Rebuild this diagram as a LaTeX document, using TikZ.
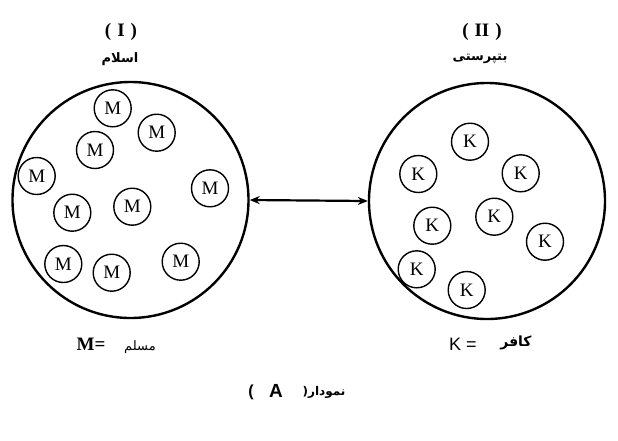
\documentclass[tikz,border=0pt]{standalone}
\usepackage{fontspec}
\setmainfont{Liberation Serif}
\newfontfamily\sansf{Liberation Sans}
\newfontfamily\arabicfont[Script=Arabic]{DejaVu Sans}
\TeXXeTstate=1
\usetikzlibrary{arrows.meta}
\begin{document}
\begin{tikzpicture}[x=1pt,y=-1pt,
  big/.style={draw,line width=2.4pt,circle,minimum size=236pt,inner sep=0pt},
  small/.style={draw,line width=1.4pt,circle,minimum size=37pt,inner sep=0pt,font=\fontsize{19}{19}\selectfont},
  title/.style={font=\fontsize{19}{19}\selectfont\bfseries},
  artitle/.style={font=\arabicfont\bfseries\fontsize{13}{13}\selectfont},
  label/.style={font=\fontsize{19}{19}\selectfont\bfseries},
]
\useasboundingbox[fill=white] (0,0) rectangle (618,440);
\node[big] (L) at (130.5,200) {};
\node[big] (R) at (487,201) {};
\draw[line width=2.2pt,{Stealth[length=10pt,width=8pt]}-{Stealth[length=10pt,width=8pt]}] (L.east) -- (R.west);

\node[small] (m1) at (112.7,108.3) {M};
\node[small] (m2) at (156.7,132.7) {M};
\node[small] (m3) at (95,150) {M};
\node[small] (m4) at (36.7,176) {M};
\node[small] (m5) at (210,188.3) {M};
\node[small] (m6) at (72.3,212.7) {M};
\node[small] (m7) at (132.3,206.7) {M};
\node[small] (m8) at (63.3,264) {M};
\node[small] (m9) at (111.7,272.7) {M};
\node[small] (m10) at (180.7,261.7) {M};

\node[small] (k1) at (470,141.7) {K};
\node[small] (k2) at (418.3,174) {K};
\node[small] (k3) at (520.7,173.3) {K};
\node[small] (k4) at (432.3,225.7) {K};
\node[small] (k5) at (494.3,216.7) {K};
\node[small] (k6) at (545,241.7) {K};
\node[small] (k7) at (416.7,269.3) {K};
\node[small] (k8) at (466.7,290) {K};

\node[title] (t1) at (121,32) {(\hspace{6pt}I\hspace{6pt})};
\node[artitle] (a1) at (120,59) {\beginR اسلام\endR};
\node[title] (t2) at (482,32) {(\hspace{6pt}II\hspace{6pt})};
\node[artitle] (a2) at (480,59) {\beginR بتپرستی\endR};

\node[label] (lm) at (91,344) {M=};
\node[font=\arabicfont\fontsize{13}{13}\selectfont] (am) at (140,347) {\beginR مسلم\endR};
\node[font=\sansf\fontsize{18}{18}\selectfont] (lk) at (463,344) {K =};
\node[font=\arabicfont\bfseries\fontsize{14}{14}\selectfont] (ak) at (516,343) {\beginR کافر\endR};

\node[font=\sansf\bfseries\fontsize{16}{16}\selectfont] (cp) at (251,392) {(};
\node[font=\sansf\bfseries\fontsize{19}{19}\selectfont] (ca) at (276,391) {A};
\node[font=\arabicfont\bfseries\fontsize{12}{12}\selectfont] (cw) at (324,392) {(\beginR نمودار\endR};
\end{tikzpicture}
\end{document}
